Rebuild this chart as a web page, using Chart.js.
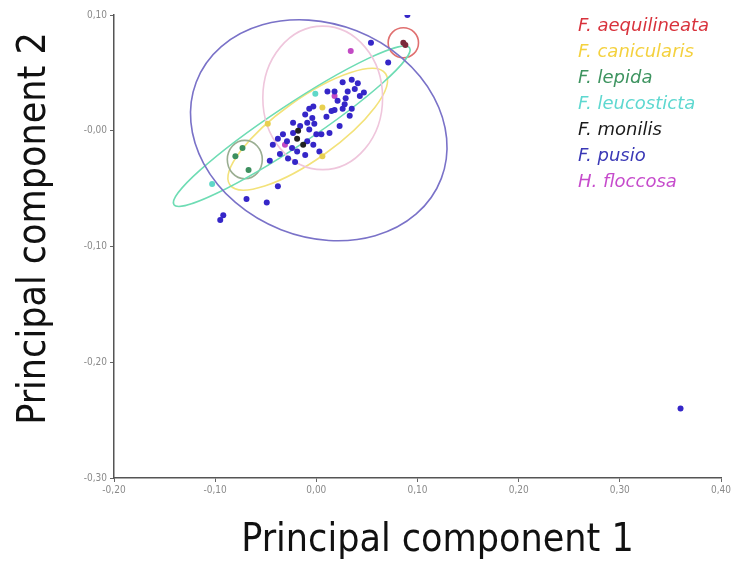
<!DOCTYPE html>
<html>
<head>
<meta charset="utf-8">
<script src="https://cdn.jsdelivr.net/npm/chart.js@4"></script>
<style>
  html, body { margin: 0; padding: 0; background: #fff; }
  #wrap { width: 736px; height: 570px; }
</style>
</head>
<body>
<div id="wrap"><canvas id="pca" width="736" height="570"></canvas></div>
<script>
// PCA scores, [PC1, PC2] per specimen
const aequilineata = [[0.086, 0.076], [0.088, 0.074]];
const canicularis = [[0.006, 0.020], [0.006, -0.022], [-0.048, 0.006]];
const lepida = [[-0.080, -0.022], [-0.073, -0.015], [-0.067, -0.034]];
const leucosticta = [[-0.103, -0.046], [-0.001, 0.032]];
const monilis = [[-0.018, 0.000], [-0.013, -0.012], [-0.019, -0.007]];
const floccosa = [[0.034, 0.069], [-0.031, -0.012], [0.018, 0.030]];
const pusio = [
    [0.090, 0.100], [0.054, 0.076], [0.071, 0.059], [-0.069, -0.059], [-0.049, -0.062],
    [-0.038, -0.048], [-0.046, -0.026], [-0.095, -0.077], [-0.092, -0.073],
    [0.026, 0.042], [0.035, 0.044], [0.041, 0.041], [0.011, 0.034], [0.018, 0.034],
    [0.031, 0.034], [0.047, 0.033], [0.043, 0.030], [0.029, 0.028], [0.028, 0.023],
    [0.026, 0.019], [0.035, 0.019], [0.018, 0.018], [0.015, 0.017], [0.010, 0.012],
    [-0.007, 0.019], [-0.011, 0.014], [-0.004, 0.011], [-0.002, 0.006], [-0.007, 0.001],
    [0.023, 0.004], [0.005, -0.003], [0.013, -0.002], [-0.016, 0.004], [-0.023, 0.007],
    [-0.043, -0.012], [-0.038, -0.007], [-0.033, -0.003], [-0.029, -0.009], [-0.024, -0.015],
    [-0.028, -0.024], [-0.021, -0.027], [-0.019, -0.018], [-0.011, -0.021], [-0.036, -0.020],
    [-0.009, -0.009], [-0.003, -0.012], [0.000, -0.003], [-0.023, -0.002], [-0.009, 0.007],
    [-0.003, 0.021], [0.038, 0.036], [0.021, 0.026], [0.003, -0.018], [0.033, 0.013],
    [0.360, -0.240]
];

// confidence ellipses: centre x, centre y, then two conjugate half-axes (x, y) in data units
const aequilineataEllipse = [0.086, 0.076, 0.015, 0, 0, 0.013];
const canicularisEllipse = [-0.0085, 0.0013, 0.0770, 0.0480, -0.0168, 0.0214];
const lepidaEllipse = [-0.0707, -0.0249, 0.0173, 0, 0, 0.0166];
const leucostictaEllipse = [-0.0243, 0.0039, 0.1165, 0.0677, -0.0109, 0.0146];
const floccosaEllipse = [0.0063, 0.0284, 0.0592, 0, 0, 0.062];
const pusioEllipse = [0.0024, 0.0004, 0.1264, -0.0070, -0.0099, 0.0952];

const xTicks = [-0.2, -0.1, 0, 0.1, 0.2, 0.3, 0.4];
const yTicks = [-0.3, -0.2, -0.1, 0, 0.1];
const xTitle = 'Principal component 1';
const yTitle = 'Principal component 2';

const condensed = "'DejaVu Sans Condensed', 'DejaVu Sans', sans-serif";

function toPoints(arr) {
    return arr.map(p => ({ x: p[0], y: p[1] }));
}

function species(label, arr, color, textColor, lineColor, ellipse) {
    return {
        label: label,
        data: toPoints(arr),
        backgroundColor: color,
        borderWidth: 0,
        pointRadius: 3,
        pointHoverRadius: 3,
        textColor: textColor,
        lineColor: lineColor,
        ellipse: ellipse
    };
}

// draws each species ellipse through the chart scales
const ellipsePlugin = {
    id: 'ellipses',
    beforeDatasetsDraw(chart) {
        const ctx = chart.ctx;
        const xs = chart.scales.x, ys = chart.scales.y;
        chart.data.datasets.forEach(ds => {
            const e = ds.ellipse;
            if (!e) return;
            const cx = xs.getPixelForValue(e[0]);
            const cy = ys.getPixelForValue(e[1]);
            const ax = xs.getPixelForValue(e[0] + e[2]) - cx;
            const ay = ys.getPixelForValue(e[1] + e[3]) - cy;
            const bx = xs.getPixelForValue(e[0] + e[4]) - cx;
            const by = ys.getPixelForValue(e[1] + e[5]) - cy;
            ctx.save();
            ctx.beginPath();
            ctx.save();
            ctx.transform(ax, ay, bx, by, cx, cy);
            ctx.arc(0, 0, 1, 0, Math.PI * 2);
            ctx.restore();
            ctx.strokeStyle = ds.lineColor;
            ctx.lineWidth = 1.6;
            ctx.stroke();
            ctx.restore();
        });
    }
};

// species names in their own colour, top right
const legendPlugin = {
    id: 'speciesLegend',
    afterDraw(chart) {
        const ctx = chart.ctx;
        ctx.save();
        ctx.font = "italic 18px 'DejaVu Sans', sans-serif";
        ctx.textBaseline = 'middle';
        chart.data.datasets.forEach((ds, i) => {
            ctx.fillStyle = ds.textColor;
            ctx.fillText(ds.label, 578, 26 + i * 26.1);
        });
        ctx.restore();
    }
};

// big axis titles (the x one sits a bit right of the plot centre)
const axisTitlePlugin = {
    id: 'axisTitles',
    afterDraw(chart) {
        const ctx = chart.ctx;
        const area = chart.chartArea;
        ctx.save();
        ctx.fillStyle = '#111';
        ctx.font = "39px " + condensed;
        ctx.textAlign = 'center';
        ctx.textBaseline = 'middle';
        ctx.fillText(xTitle, (area.left + area.right) / 2 + 20, 541);
        ctx.translate(35, (area.top + area.bottom) / 2 - 18);
        ctx.rotate(-Math.PI / 2);
        ctx.fillText(yTitle, 0, 0);
        ctx.restore();
    }
};

function fmt(v) {
    return v.toFixed(2).replace('.', ',');
}

const datasets = [
    species('F. aequilineata', aequilineata, '#7a2a3a', '#d8323c', '#e07070', aequilineataEllipse),
    species('F. canicularis', canicularis, '#e8d050', '#f4d13e', '#f3e27a', canicularisEllipse),
    species('F. lepida', lepida, '#3d8f5f', '#3e9460', '#9aae92', lepidaEllipse),
    species('F. leucosticta', leucosticta, '#5fd8c8', '#5ed8d0', '#6edcb4', leucostictaEllipse),
    species('F. monilis', monilis, '#222222', '#1a1a1a', null, null),
    species('F. pusio', pusio, '#3526c8', '#3a38b6', '#7a72c8', pusioEllipse),
    species('H. floccosa', floccosa, '#c24ac4', '#c64ccc', '#efc6dc', floccosaEllipse)
];

new Chart(document.getElementById('pca'), {
    type: 'scatter',
    data: { datasets: datasets },
    options: {
        responsive: false,
        animation: false,
        devicePixelRatio: 1,
        layout: { padding: { top: 15, right: 15, left: 0, bottom: 0 } },
        plugins: {
            legend: { display: false },
            tooltip: { enabled: false }
        },
        scales: {
            x: {
                type: 'linear',
                min: -0.2,
                max: 0.4,
                afterBuildTicks: s => { s.ticks = xTicks.map(v => ({ value: v })); },
                afterFit: s => { s.height = 92; },
                ticks: {
                    callback: v => fmt(v),
                    color: '#8a8a8a',
                    font: { family: condensed, size: 10 },
                    padding: 2,
                    maxRotation: 0
                },
                grid: { drawOnChartArea: false, drawTicks: true, tickLength: 4, color: '#666' },
                border: { display: true, color: '#555', width: 1.5 }
            },
            y: {
                type: 'linear',
                min: -0.3,
                max: 0.1,
                afterBuildTicks: s => { s.ticks = yTicks.map(v => ({ value: v })); },
                afterFit: s => { s.width = 114; },
                ticks: {
                    callback: v => (Math.abs(v) < 1e-9 ? '-0,00' : fmt(v)),
                    color: '#8a8a8a',
                    font: { family: condensed, size: 10 },
                    padding: 3
                },
                grid: { drawOnChartArea: false, drawTicks: true, tickLength: 4, color: '#666' },
                border: { display: true, color: '#555', width: 1.5 }
            }
        }
    },
    plugins: [ellipsePlugin, legendPlugin, axisTitlePlugin]
});
</script>
</body>
</html>
